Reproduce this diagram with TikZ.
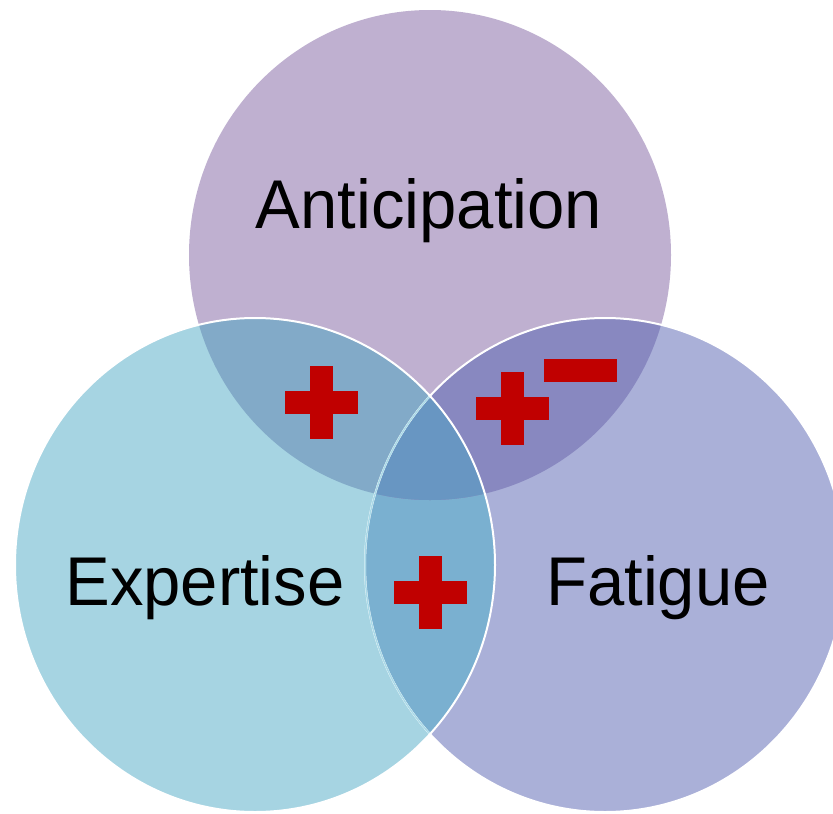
\documentclass[tikz,border=0pt]{standalone}
\usepackage{fontspec}
\setmainfont{Liberation Sans}
\usetikzlibrary{positioning}

\definecolor{antfill}{RGB}{191,176,208}
\definecolor{expfill}{RGB}{166,212,226}
\definecolor{fatfill}{RGB}{170,176,216}
\definecolor{tlfill}{RGB}{130,170,200}
\definecolor{trfill}{RGB}{136,136,192}
\definecolor{lrfill}{RGB}{122,176,208}
\definecolor{midfill}{RGB}{104,150,194}
\definecolor{rimcyan}{RGB}{170,218,232}
\definecolor{signred}{RGB}{192,0,0}

\begin{document}
\begin{tikzpicture}[x=1pt, y=-1pt]

% Styles
\tikzset{
    vennlabel/.style={anchor=base, inner sep=0pt, font=\fontsize{67}{80}\selectfont, text=black, yscale=1.03},
    rim/.style={draw=white, line width=2pt},
    venn/.style={x radius=240pt, y radius=247pt},
    hbar/.style={rectangle, fill=signred, minimum width=73pt, minimum height=23pt, inner sep=0pt},
    vbar/.style={hbar, minimum width=23pt, minimum height=73pt}
}

\useasboundingbox (0,0) rectangle (833,814);
\fill[white] (0,0) rectangle (833,814);

% Centres
\coordinate (antc) at (430,255);
\coordinate (expc) at (255,565);
\coordinate (fatc) at (605,565);

% Circles
\fill[antfill] (antc) circle[x radius=241pt, y radius=245pt];
\fill[fatfill] (fatc) circle[venn];
\fill[expfill] (expc) circle[venn];

% Overlaps
\begin{scope}
    \clip (expc) circle[venn];
    \fill[lrfill] (fatc) circle[venn];
\end{scope}
\begin{scope}
    \clip (antc) circle[x radius=241pt, y radius=245pt];
    \fill[tlfill] (expc) circle[venn];
    \fill[trfill] (fatc) circle[venn];
    \clip (expc) circle[venn];
    \fill[midfill] (fatc) circle[venn];
\end{scope}

% Rims
\draw[rim] (fatc) circle[venn];
\begin{scope}
    \clip (expc) circle[venn];
    \draw[rim, draw=rimcyan, line width=1.5pt] (fatc) circle[venn];
\end{scope}
\draw[rim] (expc) circle[venn];

% Labels
\node[vennlabel] (anticipation) at (429,228) {Anticipation};
\node[vennlabel] (expertise) at (205,605) {Expertise};
\node[vennlabel] (fatigue) at (658,605) {Fatigue};

% Signs
\node[hbar] (plusTLh) at (321,402) {};
\node[vbar] (plusTLv) at (321,402) {};
\node[hbar] (plusTRh) at (512,408) {};
\node[vbar] (plusTRv) at (512,408) {};
\node[hbar] (minusTR) at (580,370) {};
\node[hbar] (plusLRh) at (430,592) {};
\node[vbar] (plusLRv) at (430,592) {};

\end{tikzpicture}
\end{document}
